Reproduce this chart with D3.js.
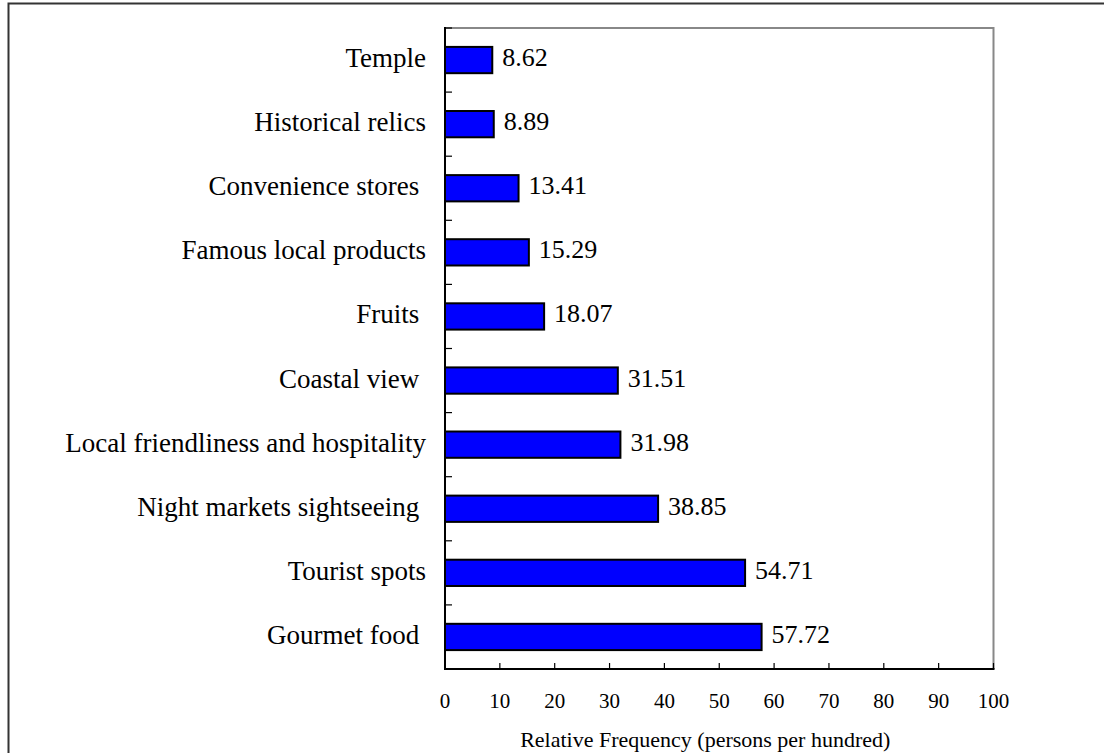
<!DOCTYPE html>
<html><head><meta charset="utf-8">
<script src="https://cdn.jsdelivr.net/npm/d3@7"></script>
<style>body{margin:0;background:#fff}svg{display:block}text{font-family:"Liberation Serif","Times New Roman",serif;fill:#000;white-space:pre}</style>
</head><body><svg id="c" width="1104" height="753"></svg>
<script>
const categories = ["Temple","Historical relics","Convenience stores ","Famous local products","Fruits ","Coastal view ","Local friendliness and hospitality","Night markets sightseeing ","Tourist spots","Gourmet food "];
const values = [8.62,8.89,13.41,15.29,18.07,31.51,31.98,38.85,54.71,57.72];
const xTicks = [0,10,20,30,40,50,60,70,80,90,100];
const xTitle = "Relative Frequency (persons per hundred)";

const svg = d3.select("#c");
const L = 445, R = 993.5, T = 28, B = 669;
// outer frame
svg.append("rect").attr("x",8.5).attr("y",3.5).attr("width",1200).attr("height",900)
  .attr("fill","none").attr("stroke","#333").attr("stroke-width",2);

const x = d3.scaleLinear().domain([0,100]).range([L,R]);
const y = d3.scaleBand().domain(categories).range([T,B]).paddingInner(0.59).paddingOuter(0.295);
const yb = d3.scaleBand().domain(categories).range([T,B]);

// gray top/right
svg.append("path").attr("d",`M${L},${T}H${R}V${B}`).attr("fill","none").attr("stroke","#888").attr("stroke-width",2);

// bars
svg.selectAll("rect.bar").data(values).enter().append("rect").attr("class","bar")
  .attr("x",x(0)).attr("y",(d,i)=>y(categories[i]))
  .attr("width",d=>x(d)-x(0)).attr("height",y.bandwidth())
  .attr("fill","#0000ff").attr("stroke","#000").attr("stroke-width",2);

// value labels
svg.selectAll("text.val").data(values).enter().append("text").attr("class","val")
  .attr("x",d=>x(d)+10).attr("y",(d,i)=>y(categories[i])+y.bandwidth()/2+6)
  .attr("font-size",26).text(d=>d.toFixed(2));

// category labels
svg.selectAll("text.cat").data(categories).enter().append("text").attr("class","cat")
  .attr("x",426).attr("y",d=>yb(d)+yb.bandwidth()/2+7).attr("text-anchor","end")
  .attr("font-size",27).attr("xml:space","preserve").text(d=>d);

// left ticks at band boundaries
const bounds = categories.map(c=>yb(c)).concat([B]);
svg.selectAll("line.yt").data(bounds).enter().append("line")
  .attr("x1",L).attr("x2",L+7).attr("y1",d=>d).attr("y2",d=>d).attr("stroke","#000").attr("stroke-width",1.2);

// bottom ticks
svg.selectAll("line.xt").data(xTicks).enter().append("line")
  .attr("x1",d=>x(d)).attr("x2",d=>x(d)).attr("y1",B).attr("y2",B-6).attr("stroke","#000").attr("stroke-width",1.2);
svg.selectAll("text.xl").data(xTicks).enter().append("text")
  .attr("x",d=>x(d)).attr("y",708).attr("text-anchor","middle").attr("font-size",21).text(d=>d);

// axes lines
svg.append("path").attr("d",`M${L},${T-1}V${B}H${R+1}`).attr("fill","none").attr("stroke","#000").attr("stroke-width",2);

svg.append("text").attr("x",(L+R)/2-14).attr("y",747).attr("text-anchor","middle").attr("font-size",22).text(xTitle);
</script></body></html>
